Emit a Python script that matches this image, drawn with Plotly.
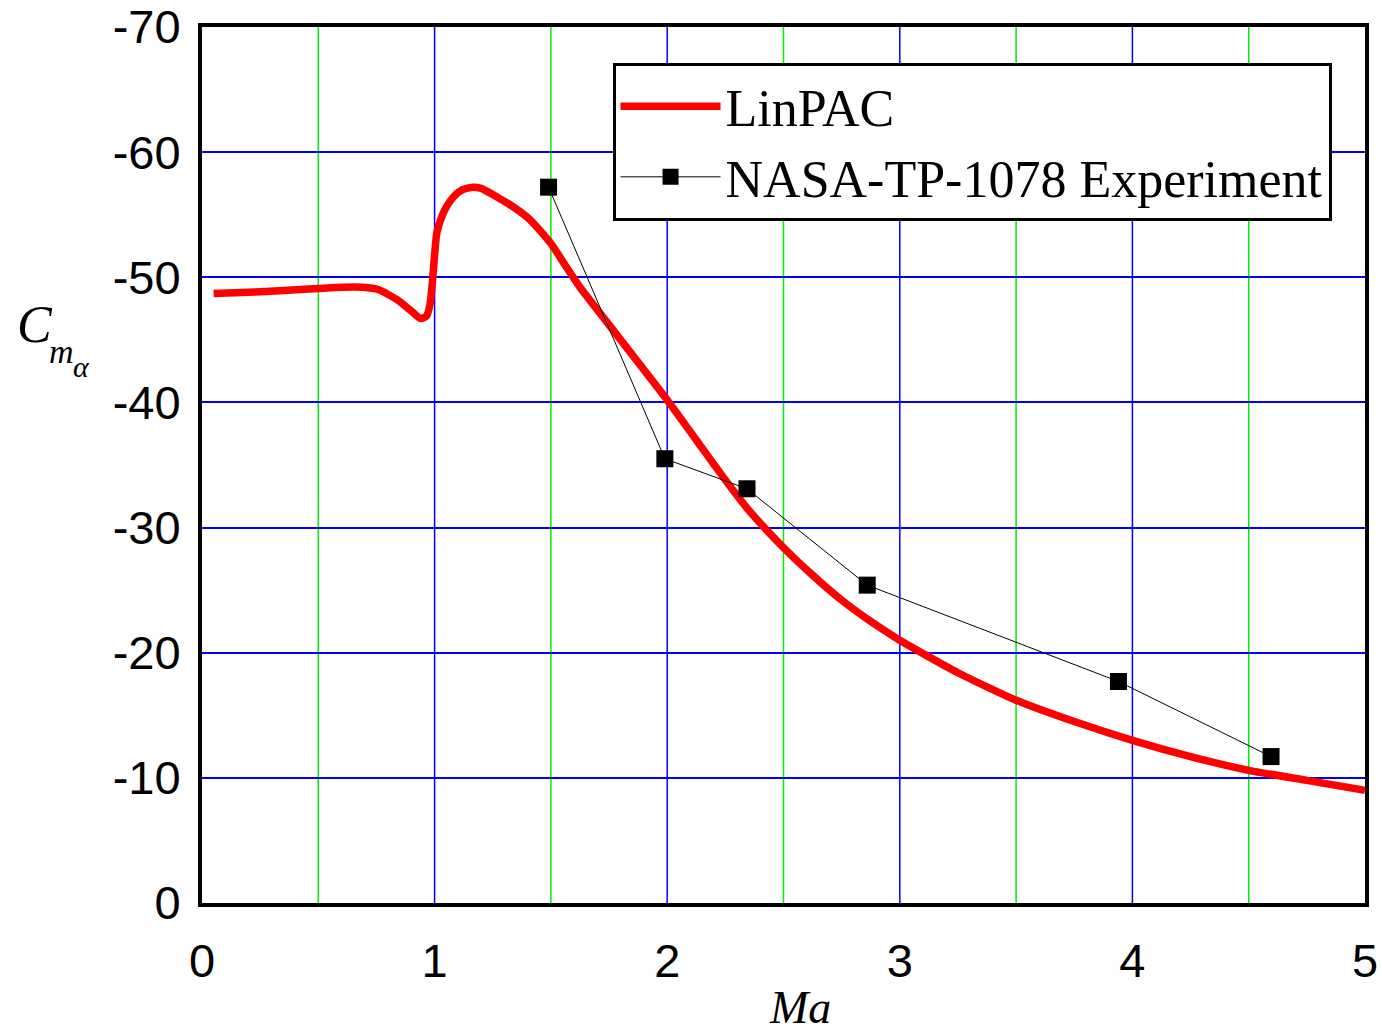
import plotly.graph_objects as go

# LinPAC curve (Ma, Cm_alpha)
lin_ma = [0.05, 0.2, 0.35, 0.5, 0.6, 0.69, 0.76, 0.84, 0.9, 0.94, 0.965, 0.98, 0.99, 1.0, 1.01, 1.03, 1.05, 1.08, 1.12, 1.165, 1.2, 1.27, 1.34, 1.41, 1.5, 1.56, 1.625, 1.75, 1.875, 2.0, 2.125, 2.25, 2.35, 2.5, 2.625, 2.75, 2.875, 3.0, 3.25, 3.5, 3.75, 4.0, 4.25, 4.5, 4.75, 5.0]
lin_cm = [-48.7, -48.8, -48.95, -49.1, -49.2, -49.2, -49.0, -48.2, -47.3, -46.7, -46.9, -47.8, -49.5, -51.8, -53.6, -54.8, -55.6, -56.4, -57.0, -57.2, -57.1, -56.4, -55.6, -54.6, -52.7, -51.0, -49.2, -46.2, -43.2, -40.2, -37.0, -33.8, -31.4, -28.4, -26.2, -24.2, -22.5, -21.0, -18.4, -16.2, -14.5, -13.0, -11.7, -10.6, -9.8, -9.0]

# NASA-TP-1078 experiment
exp_ma = [1.49, 1.99, 2.343, 2.86, 3.94, 4.596]
exp_cm = [-57.2, -35.5, -33.1, -25.4, -17.7, -11.7]

x_ticks = [0, 1, 2, 3, 4, 5]
x_major_grid = [1, 2, 3, 4]
x_minor_grid = [0.5, 1.5, 2.5, 3.5, 4.5]
y_ticks = [0, -10, -20, -30, -40, -50, -60, -70]

fig = go.Figure()
fig.add_trace(go.Scatter(x=lin_ma, y=lin_cm, mode="lines", name="LinPAC",
                         line=dict(color="#ff0000", width=7.5, shape="spline", smoothing=0.6)))
fig.add_trace(go.Scatter(x=exp_ma, y=exp_cm, mode="lines+markers", name="NASA-TP-1078 Experiment",
                         line=dict(color="black", width=1),
                         marker=dict(symbol="square", size=17, color="black")))

# vertical grid lines (green at half values, blue at integers)
for xv in x_minor_grid:
    fig.add_shape(type="line", xref="x", yref="paper", x0=xv, x1=xv, y0=0, y1=1,
                  line=dict(color="#00ee00", width=1.5), layer="below")
for xv in x_major_grid:
    fig.add_shape(type="line", xref="x", yref="paper", x0=xv, x1=xv, y0=0, y1=1,
                  line=dict(color="#0000ff", width=1.5), layer="below")

fig.update_layout(
    width=1382, height=1034,
    margin=dict(l=202, r=17, t=27, b=131),
    plot_bgcolor="white", paper_bgcolor="white",
    showlegend=True,
    legend=dict(x=0.353, y=0.959, xanchor="left", yanchor="top",
                bgcolor="white", bordercolor="black", borderwidth=3,
                font=dict(family="Liberation Serif", size=52, color="black"),
                tracegroupgap=0, itemwidth=100),
    xaxis=dict(range=[0, 5], tickvals=x_ticks, ticktext=[str(v) for v in x_ticks],
               showgrid=False, automargin=False,
               showline=True, linecolor="black", linewidth=4, mirror=True,
               ticks="", zeroline=False, ticklabelstandoff=14,
               tickfont=dict(family="Liberation Sans", size=47, color="black")),
    yaxis=dict(range=[0, -70], tickvals=y_ticks, ticktext=[str(v) for v in y_ticks],
               showgrid=True, gridcolor="#0000ff", gridwidth=1.5, automargin=False,
               showline=True, linecolor="black", linewidth=4, mirror=True,
               ticks="", zeroline=False, ticklabelstandoff=8,
               tickfont=dict(family="Liberation Sans", size=47, color="black")),
)

fig.add_annotation(xref="paper", yref="paper", x=0.514, y=-0.119, xanchor="center", yanchor="middle",
                   text="<i>Ma</i>", showarrow=False,
                   font=dict(family="Liberation Serif", size=46, color="black"))
fig.add_annotation(xref="paper", yref="paper", x=-0.1436, y=0.66, xanchor="center", yanchor="middle",
                   text="<i>C</i>", showarrow=False,
                   font=dict(family="Liberation Serif", size=52, color="black"))
fig.add_annotation(xref="paper", yref="paper", x=-0.1204, y=0.629, xanchor="center", yanchor="middle",
                   text="<i>m</i>", showarrow=False,
                   font=dict(family="Liberation Serif", size=34, color="black"))
fig.add_annotation(xref="paper", yref="paper", x=-0.1032, y=0.613, xanchor="center", yanchor="middle",
                   text="<i>α</i>", showarrow=False,
                   font=dict(family="Liberation Serif", size=30, color="black"))

fig.write_html("out.html")
